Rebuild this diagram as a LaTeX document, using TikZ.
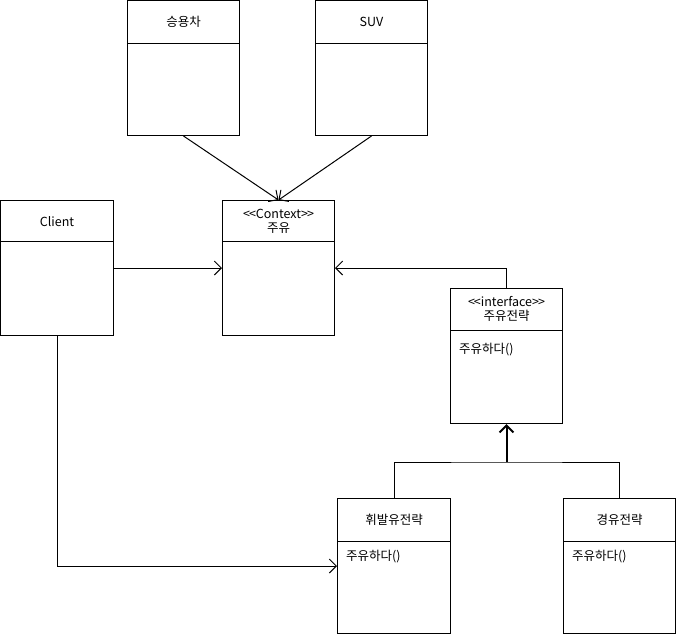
\documentclass[tikz,border=0pt]{standalone}
\usepackage{fontspec}
\setmainfont{Noto Sans CJK KR}
\usepackage{tikz}
\usetikzlibrary{arrows.meta, calc}
\tikzset{
    cls/.style={draw, line width=1pt, anchor=north west, minimum width=112pt, minimum height=135pt, inner sep=0pt},
    ttl/.style={align=center, font=\fontsize{12.5}{15}\selectfont, inner sep=0pt},
    mth/.style={anchor=west, font=\fontsize{12.5}{15}\selectfont, inner sep=0pt},
    arr/.style={-{Straight Barb[length=7pt,width=14pt]}, line width=1pt},
    thickarr/.style={arr, line width=2pt}
}

\begin{document}
\begin{tikzpicture}[x=1pt, y=-1pt]
        \useasboundingbox (0,0) rectangle (677,635);
        % classes
        \node[cls] (car) at (127,0) {};
        \node[cls] (suv) at (315,0) {};
        \node[cls, minimum width=113pt] (client) at (0,200) {};
        \node[cls] (ctx) at (222,200) {};
        \node[cls] (strat) at (450,288) {};
        \node[cls, minimum width=113pt] (gas) at (337,498) {};
        \node[cls] (diesel) at (563,498) {};
        \foreach \c/\h in {car/43, suv/43, client/41, ctx/41, strat/42, gas/43, diesel/43}
          \draw[line width=1pt] ([yshift=-\h pt]\c.north west) -- ([yshift=-\h pt]\c.north east);
        % titles
        \node[ttl] (carT) at ([yshift=-22pt]car.north) {승용차};
        \node[ttl] (suvT) at ([yshift=-22pt]suv.north) {SUV};
        \node[ttl] (clientT) at ([yshift=-22pt]client.north) {Client};
        \node[ttl] (ctxT) at ([yshift=-21pt]ctx.north) {<\kern-1pt<Context>\kern-1pt>\\[-1pt]주유};
        \node[ttl] (stratT) at ([yshift=-21pt]strat.north) {<\kern-1pt<interface>\kern-1pt>\\[-1pt]주유전략};
        \node[ttl] (gasT) at ([yshift=-22pt]gas.north) {휘발유전략};
        \node[ttl] (dieselT) at ([yshift=-22pt]diesel.north) {경유전략};
        % methods
        \node[mth] (stratM) at (459,350) {주유하다()};
        \node[mth] (gasM) at (346,557) {주유하다()};
        \node[mth] (dieselM) at (572,557) {주유하다()};
        % connectors
        \draw[arr] (car.south) -- (ctx.north);
        \draw[arr] (suv.south) -- (ctx.north);
        \draw[arr] (client.east) -- (ctx.west);
        \draw[arr] (strat.north) |- (ctx.east);
        \draw[arr] (client.south) |- (gas.west);
        \coordinate (join) at (strat.south |- 0,462);
        \draw[line width=1pt] (gas.north) |- (join) -| (diesel.north);
        \draw[thickarr] (join) -- (strat.south);
      \end{tikzpicture}
\end{document}
